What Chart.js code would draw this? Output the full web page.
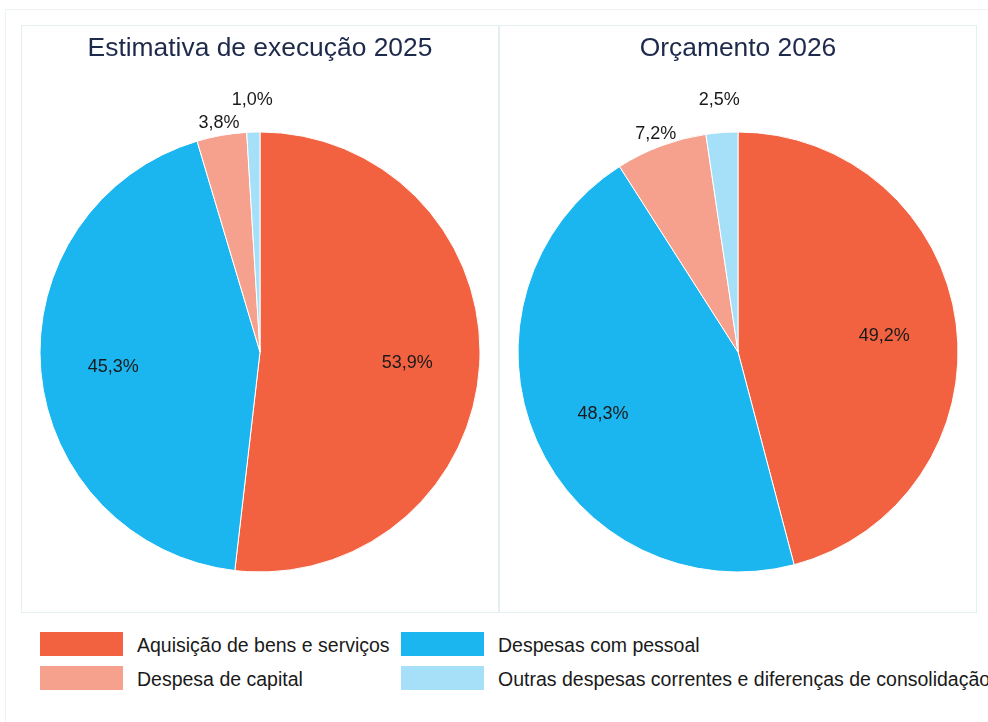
<!DOCTYPE html>
<html>
<head>
<meta charset="utf-8">
<script src="https://cdn.jsdelivr.net/npm/chart.js@4.4.0/dist/chart.umd.min.js"></script>
<style>
  html, body { margin: 0; padding: 0; background: #ffffff; width: 988px; height: 722px; overflow: hidden; font-family: "Liberation Sans", Arial, sans-serif; }
  #frame { position: absolute; left: 5px; top: 9px; width: 1000px; height: 800px; border: 1px solid #eef3f4; }
  .panel { position: absolute; top: 25px; width: 476px; height: 586px; border: 1px solid #e5eef0; }
  #p1 { left: 21px; }
  #p2 { left: 499px; }
  .panel canvas { display: block; }
  #legend { position: absolute; left: 40px; top: 632px; width: 960px; }
  .item { position: absolute; height: 25px; white-space: nowrap; }
  .box { position: absolute; left: 0; top: 0; width: 83px; height: 24px; }
  .lbl { position: absolute; left: 97px; top: 1px; font-size: 19.5px; line-height: 24px; color: #1a1a1a; }
</style>
</head>
<body>
<div id="frame"></div>
<div class="panel" id="p1"><canvas id="c1" width="476" height="586"></canvas></div>
<div class="panel" id="p2"><canvas id="c2" width="476" height="586"></canvas></div>
<div id="legend"></div>
<script>
// ---- data ----
const categories = [
  "Aquisição de bens e serviços",
  "Despesas com pessoal",
  "Despesa de capital",
  "Outras despesas correntes e diferenças de consolidação"
];
const titles = ["Estimativa de execução 2025", "Orçamento 2026"];
const values2025 = [53.9, 45.3, 3.8, 1.0];
const values2026 = [49.2, 48.3, 7.2, 2.5];
const colors = ["#F26241", "#1BB5EF", "#F6A18D", "#A6E0F8"];

// label placement: fraction of radius (inside) or pixels beyond the rim (outside)
const labelPlacement = [
  { inside: 0.67 }, { inside: 0.67 }, { outside: 15 }, { outside: 35 }
];

const pctLabels = {
  id: 'pctLabels',
  afterDatasetsDraw(chart) {
    const ctx = chart.ctx;
    const meta = chart.getDatasetMeta(0);
    const data = chart.data.datasets[0].data;
    ctx.save();
    ctx.font = '18px "Liberation Sans", Arial, sans-serif';
    ctx.fillStyle = '#1a1a1a';
    ctx.textAlign = 'center';
    ctx.textBaseline = 'middle';
    meta.data.forEach((arc, i) => {
      const p = arc.getProps(['x', 'y', 'startAngle', 'endAngle', 'outerRadius'], true);
      const mid = (p.startAngle + p.endAngle) / 2;
      const pl = labelPlacement[i];
      const r = pl.inside !== undefined ? p.outerRadius * pl.inside : p.outerRadius + pl.outside;
      const tx = p.x + Math.cos(mid) * r;
      const ty = p.y + Math.sin(mid) * r + 2.5;
      const txt = data[i].toFixed(1).replace('.', ',') + '%';
      ctx.fillText(txt, tx, ty);
    });
    ctx.restore();
  }
};

function makePie(id, title, values) {
  return new Chart(document.getElementById(id), {
    type: 'pie',
    data: {
      labels: categories,
      datasets: [{
        data: values,
        backgroundColor: colors,
        borderColor: '#ffffff',
        borderWidth: 1
      }]
    },
    options: {
      responsive: false,
      animation: false,
      layout: { padding: { top: 0, bottom: 39.5, left: 0, right: 0 } },
      plugins: {
        legend: { display: false },
        tooltip: { enabled: false },
        title: {
          display: true,
          text: title,
          color: '#1e2a4b',
          font: { size: 26.4, weight: 'normal', family: '"Liberation Sans", Arial, sans-serif' },
          padding: { top: 7, bottom: 66.8 }
        }
      }
    },
    plugins: [pctLabels]
  });
}

makePie('c1', titles[0], values2025);
makePie('c2', titles[1], values2026);

// ---- legend ----
const legend = document.getElementById('legend');
const legendPos = [[0, 0], [361, 0], [0, 34], [361, 34]];
categories.forEach((c, i) => {
  const it = document.createElement('div');
  it.className = 'item';
  it.style.left = legendPos[i][0] + 'px';
  it.style.top = legendPos[i][1] + 'px';
  const b = document.createElement('div');
  b.className = 'box';
  b.style.background = colors[i];
  const t = document.createElement('div');
  t.className = 'lbl';
  t.textContent = c;
  it.appendChild(b); it.appendChild(t);
  legend.appendChild(it);
});
</script>
</body>
</html>
